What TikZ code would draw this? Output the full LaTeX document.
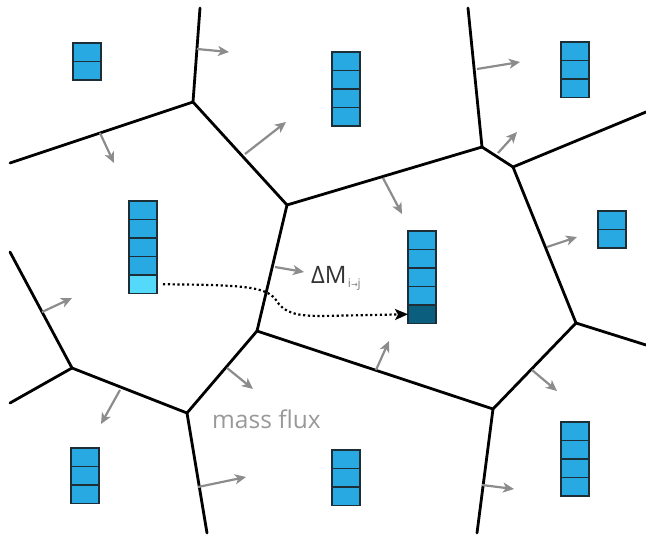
\documentclass[tikz,border=0pt]{standalone}
\usepackage{fontspec}
\setmainfont{Open Sans}
\newfontfamily\arrowfont{DejaVu Sans}
\usetikzlibrary{arrows.meta}
\definecolor{cellblue}{HTML}{29A9E1}
\definecolor{celllight}{HTML}{55D9FA}
\definecolor{celldark}{HTML}{0B5E7E}
\definecolor{cellline}{HTML}{1E2E36}
\definecolor{fluxgray}{HTML}{8C8C8C}
\definecolor{labelgray}{HTML}{999999}
\definecolor{subgray}{HTML}{7A7A7A}
\definecolor{textdark}{HTML}{333333}
\tikzset{
  edge/.style={line width=2.8pt, black, line cap=round, line join=round},
  flux/.style={line width=2.2pt, fluxgray, -{Stealth[length=11pt,width=10pt,inset=3pt]}},
  cellbox/.style={draw=cellline, line width=1.8pt, fill=cellblue, minimum width=28pt, minimum height=18.5pt, inner sep=0pt, outer sep=0pt, anchor=north west},
  transfer/.style={line width=2.2pt, black, dash pattern=on 2.2pt off 2.6pt, -{Stealth[length=13pt,width=11pt,inset=3pt]}}
}
\newcommand{\cellstack}[5][cellblue]{%
  \foreach \k in {1,...,#5}{%
    \node[cellbox] (#2-\k) at (#3,{#4+(\k-1)*18.5}) {};
  }%
  \node[cellbox, fill=#1] (#2-last) at (#3,{#4+(#5-1)*18.5}) {};
}
\begin{document}
\begin{tikzpicture}[x=1pt,y=-1pt]
\useasboundingbox (0,0) rectangle (646,535);
% Voronoi vertices and border ends
\coordinate (V1) at (193,102);
\coordinate (V2) at (287,205);
\coordinate (V3) at (482,147);
\coordinate (V4) at (513,167);
\coordinate (V5) at (576,323);
\coordinate (V6) at (493,409);
\coordinate (V7) at (257,331);
\coordinate (V8) at (187,413);
\coordinate (V9) at (72,368);
\coordinate (T1) at (200,8);
\coordinate (T2) at (468,8);
\coordinate (L1) at (10,163);
\coordinate (L2) at (10,252);
\coordinate (L3) at (10,403);
\coordinate (R1) at (646,112);
\coordinate (R2) at (646,345);
\coordinate (B1) at (477,533);
\coordinate (B2) at (207,533);
% cell boundaries
\draw[edge] (T1) -- (V1) -- (V2) -- (V3) -- (T2);
\draw[edge] (L1) -- (V1);
\draw[edge] (V3) -- (V4) -- (R1);
\draw[edge] (V4) -- (V5) -- (R2);
\draw[edge] (V5) -- (V6) -- (B1);
\draw[edge] (V6) -- (V7) -- (V2);
\draw[edge] (V7) -- (V8) -- (B2);
\draw[edge] (V8) -- (V9) -- (L2);
\draw[edge] (V9) -- (L3);
% flux arrows
\foreach \sx/\sy/\ex/\ey [count=\i] in {
  197/49/229/52, 100/133/114/163, 245/154/286/122,
  477/69/520/62, 498/153/517/132, 383/178/402/214,
  547/247/577/237, 275/267/304/272, 42/312/72/298,
  227/368/253/389, 120/390/101/424, 198/487/246/477,
  376/370/389/341, 532/370/557/391, 482/485/514/489}{
  \coordinate (fs\i) at (\sx,\sy);
  \coordinate (fe\i) at (\ex,\ey);
  \draw[flux] (fs\i) -- (fe\i);
}
% stacks of cells
\cellstack{A}{73}{43}{2}
\cellstack[celllight]{B}{129}{201}{5}
\cellstack{C}{332}{52}{4}
\cellstack{D}{561}{42}{3}
\cellstack{E}{598}{211}{2}
\cellstack[celldark]{F}{408}{231}{5}
\cellstack{G}{71}{448}{3}
\cellstack{H}{332}{450}{3}
\cellstack{I}{561}{422}{4}
% mass transfer
\draw[transfer] (B-last.east) ++(6,0) .. controls (240,285) and (266,286) .. (276,300)
  .. controls (284,313) and (296,316) .. (322,316) -- (F-last.west);
% labels
\node[anchor=base west, inner sep=0pt, text=textdark, font=\fontsize{24}{28}\selectfont] (dm) at (311,283) {ΔM};
\node[anchor=base west, inner sep=0pt, text=subgray, font=\fontsize{12}{14}\selectfont] (dmsub) at ([xshift=1pt,yshift=-4pt]dm.base east) {i{\arrowfont\fontsize{8}{9}\selectfont →}j};
\node[anchor=base west, inner sep=0pt, text=labelgray, font=\fontsize{24.5}{28}\selectfont] (mf) at (212,428) {mass flux};
\end{tikzpicture}
\end{document}
